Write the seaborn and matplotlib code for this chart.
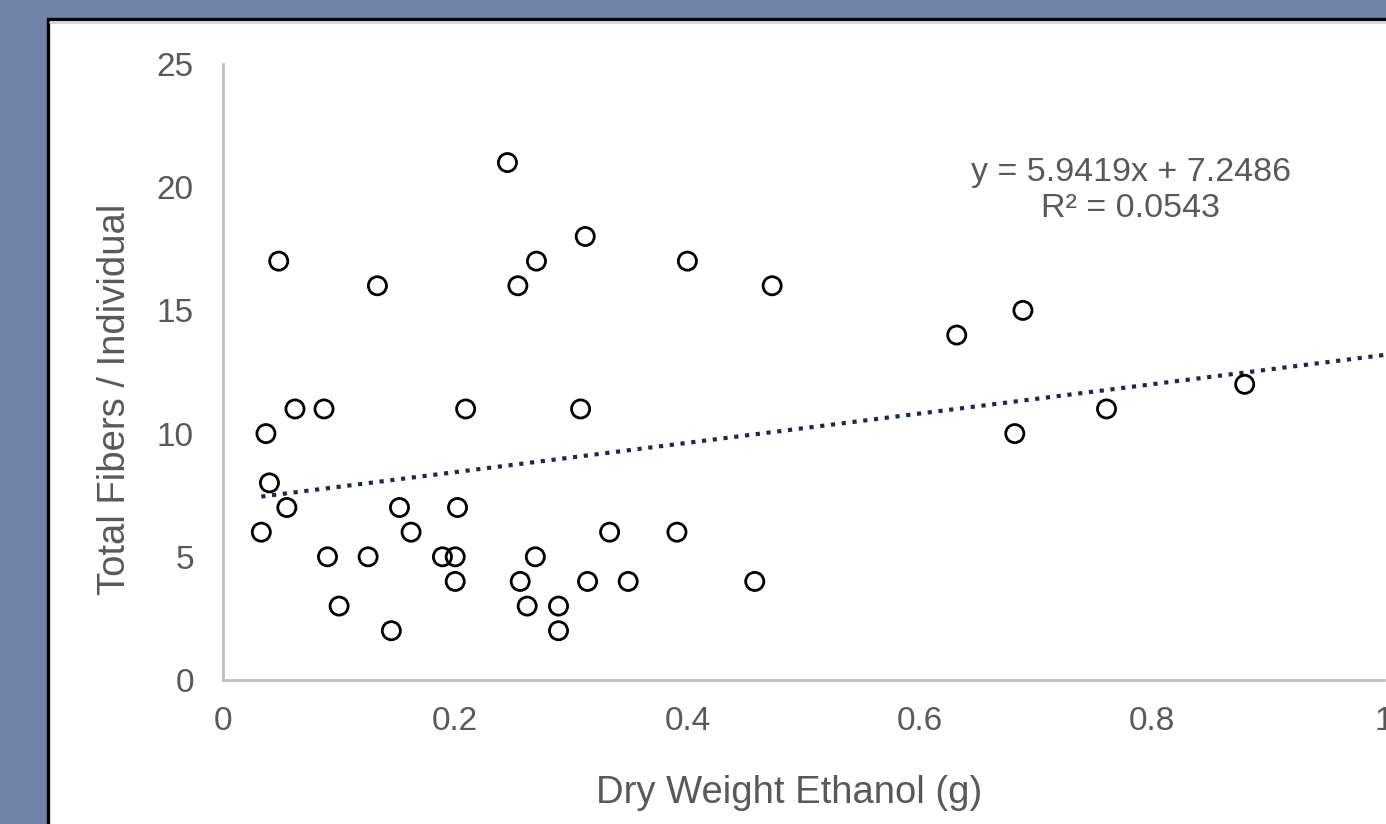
import numpy as np
import pandas as pd
import matplotlib
matplotlib.use("Agg")
import matplotlib.pyplot as plt
import seaborn as sns
from matplotlib.patches import Rectangle

# Data
dry_weight = [0.245, 0.312, 0.048, 0.270, 0.400, 0.133, 0.254, 0.473, 0.689, 0.632,
              0.880, 0.062, 0.087, 0.209, 0.308, 0.761, 0.037, 0.682, 0.040, 0.055,
              0.152, 0.202, 0.033, 0.162, 0.333, 0.391, 0.090, 0.125, 0.189, 0.200,
              0.269, 0.200, 0.256, 0.314, 0.349, 0.458, 0.100, 0.262, 0.289, 0.145,
              0.289]
fibers = [21, 18, 17, 17, 17, 16, 16, 16, 15, 14,
          12, 11, 11, 11, 11, 11, 10, 10, 8, 7,
          7, 7, 6, 6, 6, 6, 5, 5, 5, 5,
          5, 4, 4, 4, 4, 4, 3, 3, 3, 2,
          2]
slope = 5.9419
intercept = 7.2486
r2 = 0.0543
x_ticks = [0, 0.2, 0.4, 0.6, 0.8, 1]
x_tick_labels = ["0", "0.2", "0.4", "0.6", "0.8", "1"]
y_ticks = [0, 5, 10, 15, 20, 25]

df = pd.DataFrame({"x": dry_weight, "y": fibers})

sns.set_theme(style="white")
plt.rcParams['font.family'] = ['Liberation Sans', 'DejaVu Sans']

W, H = 1386, 824
fig = plt.figure(figsize=(W / 100, H / 100), dpi=100)
fig.patch.set_facecolor("#7283a8")

# background axes holding the white chart panel with black border
bg = fig.add_axes([0, 0, 1, 1], zorder=-5)
bg.set_xlim(0, W)
bg.set_ylim(H, 0)
bg.axis("off")
bg.add_patch(Rectangle((48, 19), W, H, facecolor="white", edgecolor="black", linewidth=2.4))
bg.plot([50, W], [22, 22], color="#d4d4d4", linewidth=2)

ax = fig.add_axes([223 / W, 1 - 680 / H, (1384 - 223) / W, (680 - 64) / H], zorder=1)
ax.patch.set_alpha(0)

sns.scatterplot(data=df, x="x", y="y", ax=ax, s=170, marker="o",
                facecolor="none", edgecolor="black", linewidth=2.0, zorder=3)

tx = [min(dry_weight), 1.0]
ty = [slope * v + intercept for v in tx]
sns.lineplot(x=tx, y=ty, ax=ax, color="#1c2a48", linewidth=3.0,
             linestyle=(0, (1, 1.6)), zorder=2)

ax.set_xlim(0, 1)
ax.set_ylim(0, 25)
ax.set_xticks(x_ticks)
ax.set_xticklabels(x_tick_labels)
ax.set_yticks(y_ticks)
ax.tick_params(axis="both", length=0, labelsize=24, labelcolor="#595959")
ax.tick_params(axis="x", pad=19)
ax.tick_params(axis="y", pad=21)

for side in ["top", "right"]:
    ax.spines[side].set_visible(False)
for side in ["left", "bottom"]:
    ax.spines[side].set_color("#bfbfbf")
    ax.spines[side].set_linewidth(2)

ax.set_xlabel("Dry Weight Ethanol (g)", fontsize=27.5, color="#595959", labelpad=32)
ax.set_ylabel("Total Fibers / Individual", fontsize=27.5, color="#595959", labelpad=17)
ax.xaxis.set_label_coords(0.4875, -0.155)
ax.yaxis.label.set_y(0.456)

ax.text(0.7817, 19.85, f"y = {slope}x + {intercept}\nR² = {r2}", ha="center", va="center",
        fontsize=24.5, color="#595959", linespacing=1.2)

fig.savefig("out.png", dpi=100, facecolor=fig.get_facecolor())
